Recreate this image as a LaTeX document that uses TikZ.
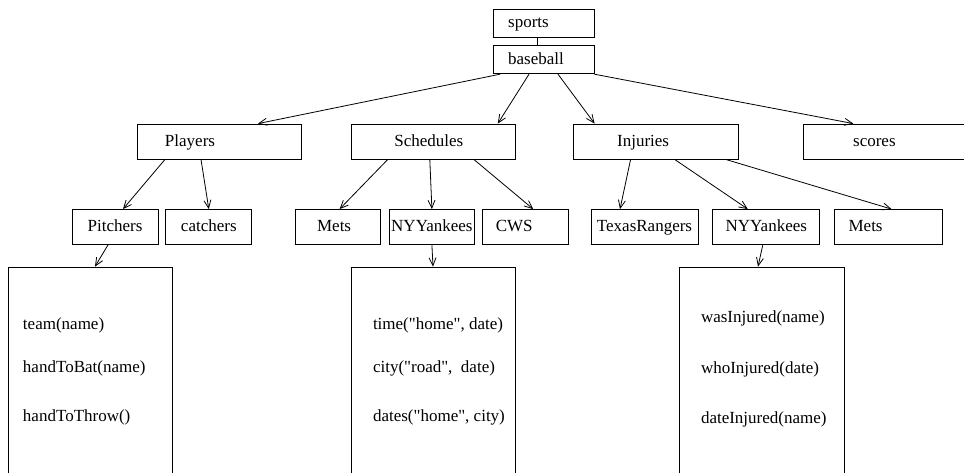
\documentclass[tikz,border=0pt]{standalone}
\usepackage{fontspec}
\setmainfont{Liberation Serif}[Ligatures=TeXOff]
\usepackage{tikz}
\usetikzlibrary{arrows.meta,positioning}

\tikzset{
  box/.style={draw, rectangle, minimum width=#1, minimum height=35pt, inner sep=0pt,
    text height=12pt, text depth=3pt},
  lshift/.style={execute at end node={\hspace*{#1}}},
  fn/.style={anchor=base west, inner sep=0pt},
}

\begin{document}
\begin{tikzpicture}[x=1pt,y=-1pt,line width=0.8pt,
    font=\fontsize{17}{20}\selectfont,
    >={Straight Barb[length=8pt,width=7pt]}]
  \path[use as bounding box, clip] (0,0) rectangle (964,472);
  % top
  \node[box=101pt, minimum height=28pt, lshift=30pt] (sports) at (543.5,23) {sports};
  \node[box=101pt, minimum height=28pt, lshift=15pt] (base) [below=8pt of sports] {baseball};
  % first level
  \node[box=164pt, lshift=58pt] (players) at (219,141.5) {Players};
  \node[box=164pt, lshift=10pt] (sched) [right=50pt of players] {Schedules};
  \node[box=165pt, lshift=26pt] (injur) [right=57pt of sched] {Injuries};
  \node[box=165pt, lshift=23pt] (scores) [right=64pt of injur] {scores};
  % second level
  \node[box=86pt] (pitch) at (115,227) {Pitchers};
  \node[box=86pt] (catch) [right=7pt of pitch] {catchers};
  \node[box=85pt, lshift=8pt] (mets) [right=43pt of catch] {Mets};
  \node[box=85pt] (nyy) [right=8pt of mets] {NYYankees};
  \node[box=86pt, lshift=22pt] (cws) [right=7pt of nyy] {CWS};
  \node[box=107pt] (texas) [right=22pt of cws] {TexasRangers};
  \node[box=107pt] (nyyb) [right=14pt of texas] {NYYankees};
  \node[box=108pt, lshift=46pt] (metsb) [right=14pt of nyyb] {Mets};
  % method lists
  \node[box=164pt, minimum height=240pt] (pitchlist) at (90,387) {};
  \node[box=164pt, minimum height=240pt] (nyylist) at (433,387) {};
  \node[box=165pt, minimum height=240pt] (injlist) at (761.5,387) {};
  \node[fn] (pl1) at ([xshift=15pt,yshift=-63pt]pitchlist.north west) {team(name)};
  \node[fn] (pl2) at ([xshift=15pt,yshift=-106pt]pitchlist.north west) {handToBat(name)};
  \node[fn] (pl3) at ([xshift=15pt,yshift=-155pt]pitchlist.north west) {handToThrow()};
  \node[fn] (nl1) at ([xshift=22pt,yshift=-63pt]nyylist.north west) {time("home", date)};
  \node[fn] (nl2) at ([xshift=22pt,yshift=-106pt]nyylist.north west) {city("road",\ \ date)};
  \node[fn] (nl3) at ([xshift=22pt,yshift=-155pt]nyylist.north west) {dates("home", city)};
  \node[fn] (il1) at ([xshift=22pt,yshift=-56pt]injlist.north west) {wasInjured(name)};
  \node[fn] (il2) at ([xshift=22pt,yshift=-107pt]injlist.north west) {whoInjured(date)};
  \node[fn] (il3) at ([xshift=22pt,yshift=-157pt]injlist.north west) {dateInjured(name)};

  \draw ([xshift=-6.5pt]sports.south) -- ([xshift=-6.5pt]base.north);
  \path[->]
  ([xshift=-43.5pt]base.south)
  edge ([xshift=39pt]players.north)
  ([xshift=-14.5pt]base.south)
  edge ([xshift=64pt]sched.north)
  ([xshift=14.5pt]base.south)
  edge ([xshift=-61.5pt]injur.north)
  (base.south east)
  edge ([xshift=-32.5pt]scores.north)
  ([xshift=-54pt]players.south)
  edge ([xshift=8pt]pitch.north)
  ([xshift=-18pt]players.south)
  edge (catch.north)
  ([xshift=-46pt]sched.south)
  edge ([xshift=1.5pt]mets.north)
  ([xshift=-4pt]sched.south)
  edge (nyy.north)
  ([xshift=40pt]sched.south)
  edge ([xshift=8pt]cws.north)
  ([xshift=-25.5pt]injur.south)
  edge ([xshift=-24.5pt]texas.north)
  ([xshift=18.5pt]injur.south)
  edge ([xshift=-18.5pt]nyyb.north)
  ([xshift=69.5pt]injur.south)
  edge ([xshift=3pt]metsb.north)
  ([xshift=-7pt]pitch.south)
  edge ([xshift=5pt]pitchlist.north)
  (nyy.south)
  edge (nyylist.north)
  ([xshift=-3.5pt]nyyb.south)
  edge ([xshift=-3.5pt]injlist.north)
  ;
\end{tikzpicture}
\end{document}
